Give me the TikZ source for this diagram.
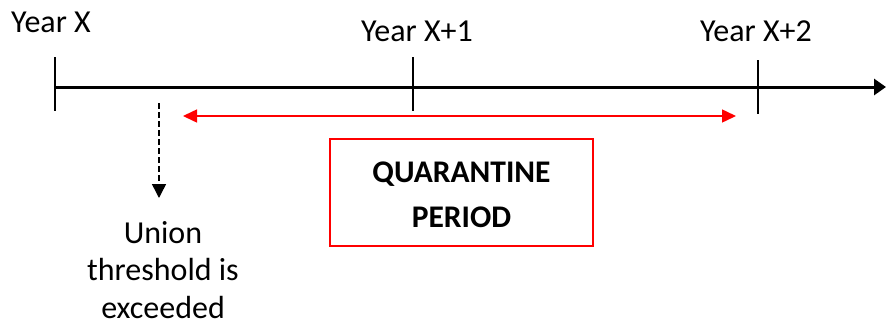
\documentclass[tikz,border=0pt]{standalone}
\usepackage{fontspec}
\setmainfont{Carlito}
\usetikzlibrary{arrows.meta}
\begin{document}
\begin{tikzpicture}[x=1pt,y=-1pt,
  lbl/.style={font=\fontsize{32}{37.5}\selectfont, inner sep=0pt, align=center},
  boldlbl/.style={font=\fontsize{31.5}{45}\selectfont\bfseries, inner sep=0pt, align=center},
  tickline/.style={line width=1.5pt},
  axis/.style={line width=3pt, -{Triangle[length=12pt,width=16pt]}},
  period/.style={red, line width=1.5pt, {Triangle[length=14pt,width=13pt]}-{Triangle[length=14pt,width=13pt]}},
  event/.style={line width=1.5pt, dash pattern=on 6pt off 3pt, -{Triangle[length=14pt,width=14pt]}},
  qbox/.style={draw=red, line width=1.8pt, minimum width=263pt, minimum height=107pt, inner sep=0pt}
]
\useasboundingbox (0,0) rectangle (886,322);
% timeline
\coordinate (t0) at (55,87);
\coordinate (tend) at (886,87);
\draw[axis] (t0) -- (tend);
% ticks
\coordinate (k0a) at (55,57);  \coordinate (k0b) at (55,111);
\coordinate (k1a) at (413,57); \coordinate (k1b) at (413,111);
\coordinate (k2a) at (758,60); \coordinate (k2b) at (758,114);
\draw[tickline] (k0a) -- (k0b);
\draw[tickline] (k1a) -- (k1b);
\draw[tickline] (k2a) -- (k2b);
% year labels
\node[lbl, anchor=base] (yx) at (51,32) {Year X};
\node[lbl, anchor=base] (yx1) at (417,41) {Year X+1};
\node[lbl, anchor=base] (yx2) at (756,41) {Year X+2};
% quarantine period arrow
\coordinate (pa) at (183,116);
\coordinate (pb) at (736,116);
\draw[period] (pa) -- (pb);
% threshold event
\coordinate (ea) at (159,103);
\coordinate (eb) at (159,198);
\draw[event] (ea) -- (eb);
\node[lbl, anchor=north] (union) at (163,221) {Union\\threshold is\\exceeded};
% quarantine box
\node[qbox] (q) at (461.5,192.5) {};
\node[boldlbl] (qt) at (461.5,194.5) {QUARANTINE\\PERIOD};
\end{tikzpicture}
\end{document}
